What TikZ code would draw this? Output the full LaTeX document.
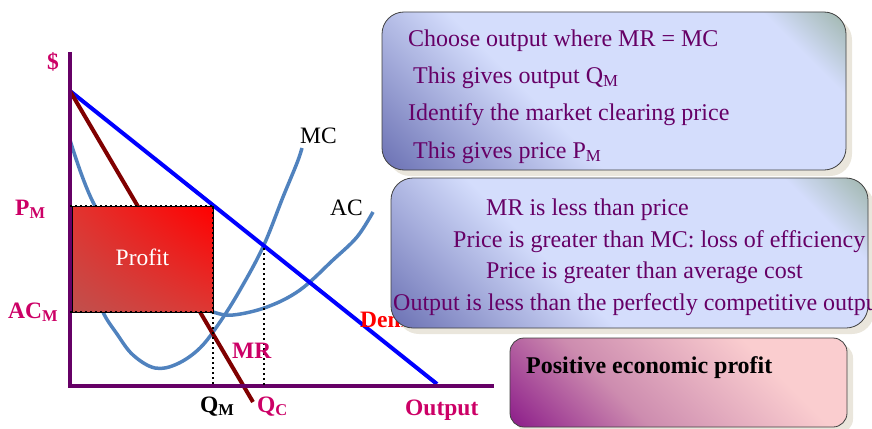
\documentclass[tikz,border=0pt]{standalone}
\usepackage{fontspec}
\setmainfont{Liberation Serif}
\usepackage{tikz}
\usetikzlibrary{positioning, shadows, shadings}

\definecolor{axispurple}{RGB}{102,0,102}
\definecolor{lblmagenta}{RGB}{204,0,102}
\definecolor{mrred}{RGB}{128,0,0}
\definecolor{curveblue}{RGB}{80,130,190}
\definecolor{txtpurple}{RGB}{102,0,102}
\definecolor{bdark}{RGB}{108,114,180}
\definecolor{blight}{RGB}{212,221,252}
\definecolor{bgreen}{RGB}{150,175,158}
\definecolor{ppurple}{RGB}{135,20,135}
\definecolor{pmid}{RGB}{205,140,175}
\definecolor{ppink}{RGB}{250,205,207}
\definecolor{shadowbeige}{RGB}{234,230,220}
\definecolor{profitdark}{RGB}{192,80,77}
\definecolor{profitmidA}{RGB}{226,52,48}
\definecolor{profitmidB}{RGB}{222,56,52}

\pgfdeclareverticalshading{noteshade}{100bp}{color(0bp)=(bdark); color(15bp)=(bdark); color(40bp)=(blight); color(76bp)=(blight); color(87bp)=(bgreen); color(100bp)=(bgreen)}
\pgfdeclareverticalshading{resultshade}{100bp}{color(0bp)=(ppurple); color(13bp)=(ppurple); color(38bp)=(pmid); color(68bp)=(ppink); color(100bp)=(ppink)}

\newcommand\notefont{\fontsize{24}{28}\selectfont}
\newcommand\lblfont{\fontsize{23.5}{28}\selectfont}

\begin{document}
\begin{tikzpicture}[
  x=1pt, y=1pt,
  axisline/.style={axispurple, line width=4pt},
  curve/.style={curveblue, line width=3.5pt},
  demand/.style={blue, line width=4pt},
  mrline/.style={mrred, line width=4pt},
  guide/.style={black, line width=2pt, dash pattern=on 2pt off 3pt},
  lbl/.style={font=\lblfont\bfseries, text=lblmagenta, anchor=base west, inner sep=0pt},
  curvelbl/.style={font=\lblfont, anchor=base west, inner sep=0pt},
  profitrect/.style={draw=black, line width=0.8pt, lower left=profitdark, upper right=red, upper left=profitmidA, lower right=profitmidB, text=white, font=\lblfont, inner sep=0pt},
  notebox/.style={draw=black!75, line width=0.8pt, rounded corners=22pt, shading=noteshade, shading angle=-45, drop shadow={shadow xshift=6pt, shadow yshift=-6pt, fill=shadowbeige, opacity=1}, inner sep=0pt},
  noteline/.style={font=\notefont, text=txtpurple, anchor=base west, inner sep=0pt}
]
  \useasboundingbox (0,0) rectangle (872,-428);
  \clip (0,0) rectangle (872,-428);

  % axes
  \coordinate (origin) at (70,-386);
  \coordinate (ytop) at (70,-52);
  \coordinate (xend) at (494,-386);

  % cost curves (left parts run behind the profit area)
  \draw[curve] plot[smooth, tension=0.6] coordinates {(70,-140) (95,-206) (140,-268) (190,-303) (213,-312) (233,-315) (267,-307) (300,-290) (333,-260) (357,-237) (373,-212)};
  \draw[curve] plot[smooth, tension=0.6] coordinates {(97,-288) (103,-312) (117,-334) (133,-355) (155,-368) (177,-364) (200,-348) (220,-322) (240,-290) (263,-247) (283,-197) (297,-163) (302,-148)};

  % demand and marginal revenue
  \coordinate (dtop) at (70,-91);
  \coordinate (dend) at (437,-384);
  \coordinate (mrend) at (253,-402);
  \draw[demand] (dtop) -- (dend);
  \draw[mrline] (dtop) -- (mrend);
  \node[lbl, text=red] (dem) at (360,-327) {Demand};

  \draw[axisline] (ytop) -- (origin) -- (xend);

  % profit area
  \node[profitrect, minimum width=141pt, minimum height=106pt, text depth=4pt] (profit) at (142.5,-259) {Profit};
  \coordinate (eff) at (264,-248);
  \draw[guide] (profit.north west -| origin) -- (profit.north east) -- (profit.east |- origin);
  \draw[guide] (profit.south west -| origin) -- (profit.south east);
  \draw[guide] (eff) -- (eff |- origin);

  % labels
  \node[lbl] (dollar) at (47,-70) {\$};
  \node[lbl] (pm) at (15,-215) {P\textsubscript{M}};
  \node[lbl] (acm) at (8,-318) {AC\textsubscript{M}};
  \node[lbl] (mr) at (232,-358) {MR};
  \node[lbl, text=black] (qm) at (200,-412) {Q\textsubscript{M}};
  \node[lbl] (qc) at (257,-412) {Q\textsubscript{C}};
  \node[lbl] (output) at (405,-415) {Output};
  \node[curvelbl] (mc) at (300,-143) {MC};
  \node[curvelbl] (ac) at (330,-215) {AC};

  % steps box
  \node[notebox, minimum width=464pt, minimum height=158pt] (steps) at (614,-91) {};
  \node[noteline] (s1) at (408,-47) {Choose output where MR = MC};
  \node[noteline] (s2) at (413,-83) {This gives output Q\textsubscript{M}};
  \node[noteline] (s3) at (408,-120) {Identify the market clearing price};
  \node[noteline] (s4) at (413,-158) {This gives price P\textsubscript{M}};

  % effects box
  \node[notebox, minimum width=477pt, minimum height=150pt] (effects) at (629.5,-253) {};
  \node[noteline] (e1) at (486,-215) {MR is less than price};
  \node[noteline] (e2) at (453,-247) {Price is greater than MC: loss of efficiency};
  \node[noteline] (e3) at (486,-278) {Price is greater than average cost};
  \node[noteline] (e4) at (393,-310) {Output is less than the perfectly competitive output};

  % result box
  \node[notebox, rounded corners=14pt, shading=resultshade, minimum width=337pt, minimum height=89pt] (result) at (678.5,-382.5) {};
  \node[noteline, text=black, font=\notefont\bfseries] (r1) at (526,-373) {Positive economic profit};
\end{tikzpicture}
\end{document}
